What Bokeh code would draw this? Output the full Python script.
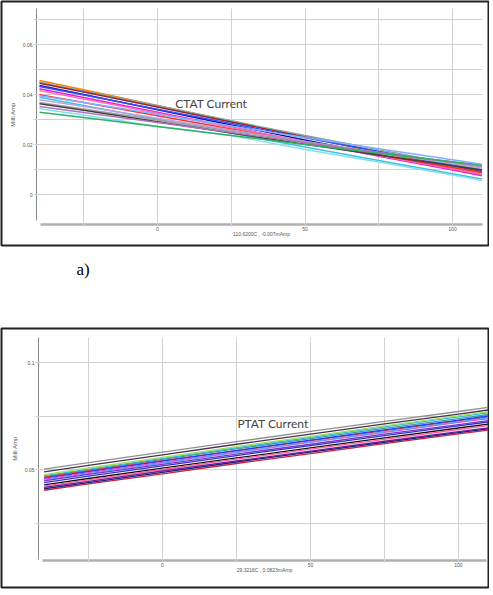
from bokeh.plotting import figure
from bokeh.layouts import column
from bokeh.models import FixedTicker, Label, Range1d, Title
from bokeh.embed import file_html
from bokeh.resources import INLINE

# ---------------- data ----------------
temps = [-40, -25, 0, 25, 50, 75, 100, 110]

ctat_series = [
    [0.0456, 0.0419, 0.0356, 0.0293, 0.0230, 0.0168, 0.0109, 0.0085],
    [0.0449, 0.0414, 0.0355, 0.0295, 0.0236, 0.0179, 0.0123, 0.0100],
    [0.0445, 0.0410, 0.0350, 0.0290, 0.0230, 0.0171, 0.0115, 0.0092],
    [0.0436, 0.0400, 0.0339, 0.0278, 0.0218, 0.0159, 0.0101, 0.0078],
    [0.0432, 0.0398, 0.0341, 0.0284, 0.0227, 0.0172, 0.0118, 0.0096],
    [0.0423, 0.0388, 0.0329, 0.0270, 0.0211, 0.0153, 0.0098, 0.0075],
    [0.0416, 0.0382, 0.0325, 0.0268, 0.0211, 0.0156, 0.0102, 0.0080],
    [0.0399, 0.0368, 0.0315, 0.0262, 0.0209, 0.0158, 0.0108, 0.0088],
    [0.0389, 0.0356, 0.0301, 0.0245, 0.0190, 0.0136, 0.0083, 0.0062],
    [0.0379, 0.0352, 0.0305, 0.0258, 0.0212, 0.0167, 0.0123, 0.0105],
    [0.0368, 0.0342, 0.0298, 0.0254, 0.0211, 0.0168, 0.0127, 0.0110],
    [0.0363, 0.0337, 0.0291, 0.0246, 0.0201, 0.0158, 0.0115, 0.0098],
    [0.0352, 0.0328, 0.0288, 0.0248, 0.0207, 0.0168, 0.0130, 0.0115],
    [0.0343, 0.0318, 0.0272, 0.0236, 0.0180, 0.0130, 0.0078, 0.0056],
    [0.0329, 0.0308, 0.0272, 0.0236, 0.0200, 0.0165, 0.0131, 0.0118],
    [0.0395, 0.0368, 0.0321, 0.0274, 0.0228, 0.0183, 0.0139, 0.0121],
]
ctat_colors = ["#ff8000", "#7fa8a8", "#a0202a", "#1010a0", "#3050ff", "#e020e0",
               "#ff70b0", "#ff3030", "#40c0e0", "#c0a0e0", "#a0a0a0", "#404040",
               "#b070c0", "#80e0f0", "#30b060", "#80b0ff"]

ptat_series = [
    [0.0502, 0.0532, 0.0581, 0.0630, 0.0678, 0.0725, 0.0771, 0.0790],
    [0.0489, 0.0519, 0.0568, 0.0618, 0.0665, 0.0713, 0.0759, 0.0778],
    [0.0471, 0.0502, 0.0552, 0.0602, 0.0650, 0.0699, 0.0746, 0.0765],
    [0.0467, 0.0497, 0.0547, 0.0596, 0.0644, 0.0692, 0.0738, 0.0757],
    [0.0463, 0.0493, 0.0541, 0.0588, 0.0635, 0.0682, 0.0727, 0.0745],
    [0.0459, 0.0490, 0.0539, 0.0588, 0.0637, 0.0685, 0.0731, 0.0750],
    [0.0455, 0.0485, 0.0533, 0.0581, 0.0628, 0.0674, 0.0720, 0.0738],
    [0.0450, 0.0481, 0.0530, 0.0580, 0.0628, 0.0676, 0.0723, 0.0742],
    [0.0447, 0.0477, 0.0524, 0.0572, 0.0618, 0.0665, 0.0710, 0.0728],
    [0.0439, 0.0469, 0.0517, 0.0565, 0.0612, 0.0658, 0.0704, 0.0722],
    [0.0428, 0.0458, 0.0506, 0.0554, 0.0601, 0.0648, 0.0694, 0.0712],
    [0.0422, 0.0452, 0.0500, 0.0548, 0.0595, 0.0641, 0.0687, 0.0705],
    [0.0416, 0.0445, 0.0493, 0.0540, 0.0586, 0.0632, 0.0677, 0.0695],
    [0.0403, 0.0433, 0.0480, 0.0528, 0.0574, 0.0621, 0.0666, 0.0684],
    [0.0410, 0.0439, 0.0487, 0.0535, 0.0581, 0.0627, 0.0672, 0.0690],
    [0.0476, 0.0507, 0.0557, 0.0607, 0.0655, 0.0704, 0.0751, 0.0770],
]
ptat_colors = ["#909090", "#4a3050", "#30c0e0", "#40a0a0", "#e03030", "#2040ff",
               "#e040e0", "#60a0ff", "#8030c0", "#3030d0", "#101010", "#ff60a0",
               "#7020a0", "#d02040", "#202080", "#a0e060"]

x_ticks = [-25, 0, 25, 50, 75, 100]
x_labels = {-25: "", 0: "0", 25: "", 50: "50", 75: "", 100: "100"}
ctat_y_ticks = [0.0, 0.01, 0.02, 0.03, 0.04, 0.05, 0.06, 0.07]
ctat_y_labels = {0.0: "0", 0.01: "", 0.02: "0.02", 0.03: "", 0.04: "0.04",
                 0.05: "", 0.06: "0.06", 0.07: ""}
ptat_y_ticks = [0.025, 0.05, 0.075, 0.1]
ptat_y_labels = {0.025: "", 0.05: "0.05", 0.075: "", 0.1: "0.1"}

ctat_xlabel = "110.6200C , -0.007mAmp"
ptat_xlabel = "29.3216C , 0.0823mAmp"
y_label = "Milli Amp"


def make_panel(width, height, xr, yr, borders, xloc, yloc, xbounds, ybounds,
               xtick_in, ytick_in, yticks, ylabels, xlabel, series, colors, title, tpos):
    p = figure(width=width, height=height, x_range=Range1d(*xr), y_range=Range1d(*yr),
               output_backend="svg", toolbar_location=None,
               min_border_left=borders[0], min_border_right=borders[1],
               min_border_top=borders[2], min_border_bottom=borders[3])
    p.outline_line_color = "#222222"
    p.outline_line_width = 2
    p.background_fill_color = "white"
    p.border_fill_color = "white"
    p.grid.visible = False

    for ys, c in zip(series, colors):
        p.line(temps, ys, line_color=c, line_width=1.3)

    p.xaxis.ticker = FixedTicker(ticks=x_ticks)
    p.xaxis.major_label_overrides = x_labels
    p.yaxis.ticker = FixedTicker(ticks=yticks)
    p.yaxis.major_label_overrides = ylabels
    for ax in (p.xaxis, p.yaxis):
        ax.level = "underlay"
        ax.minor_tick_line_color = None
        ax.major_tick_out = 3
        ax.major_tick_line_color = "#d2d2d2"
        ax.major_tick_line_width = 1
        ax.major_label_standoff = 1
        ax.major_label_text_font = "Liberation Sans"
        ax.major_label_text_font_size = "5px"
        ax.major_label_text_color = "#555555"
        ax.axis_label_text_font = "Liberation Sans"
        ax.axis_label_text_font_style = "normal"
        ax.axis_label_text_color = "#555555"
    p.xaxis.major_tick_out = 2
    p.xaxis.major_label_standoff = 0
    p.xaxis.axis_label_standoff = -3
    p.xaxis.fixed_location = xloc
    p.yaxis.fixed_location = yloc
    p.xaxis.major_tick_in = xtick_in
    p.yaxis.major_tick_in = ytick_in
    p.xaxis.axis_line_color = "#b0b0b0"
    p.xaxis.axis_line_width = 2.5
    p.xaxis.bounds = xbounds
    p.xaxis.axis_label = xlabel
    p.xaxis.axis_label_text_font_size = "5px"
    p.yaxis.axis_line_color = "#888888"
    p.yaxis.axis_line_width = 1
    p.yaxis.bounds = ybounds
    p.yaxis.axis_label = y_label
    p.yaxis.axis_label_text_font_size = "6px"
    p.yaxis.axis_label_standoff = 4

    p.add_layout(Label(x=tpos[0], y=tpos[1], text=title, text_font="Lato",
                       text_font_size="12px", text_color="#444444",
                       text_baseline="middle"))
    return p


p1 = make_panel(489, 327, (-52.88, 112.20), (-0.0204, 0.0772), (1, 1, 1, 82),
                -0.012, -41.02, (-39.7, 110.17), (-0.0104, 0.0744), 216, 446,
                ctat_y_ticks, ctat_y_labels, ctat_xlabel, ctat_series, ctat_colors,
                "CTAT Current", (6.0, 0.0364))
p1.add_layout(Title(text="a)", align="left", offset=75, standoff=24,
                    text_font="Liberation Serif", text_font_size="17px",
                    text_font_style="normal", text_color="#000000"), "below")

p2 = make_panel(489, 268, (-54.39, 110.14), (-0.00514, 0.11589), (1, 1, 1, 8),
                0.007477, -41.89, (-40.54, 109.46), (0.00794, 0.11168), 223, 448,
                ptat_y_ticks, ptat_y_labels, ptat_xlabel, ptat_series, ptat_colors,
                "PTAT Current", (25.3, 0.0715))

layout = column(p1, p2, spacing=0)
open("out.html", "w").write(file_html(layout, INLINE))
